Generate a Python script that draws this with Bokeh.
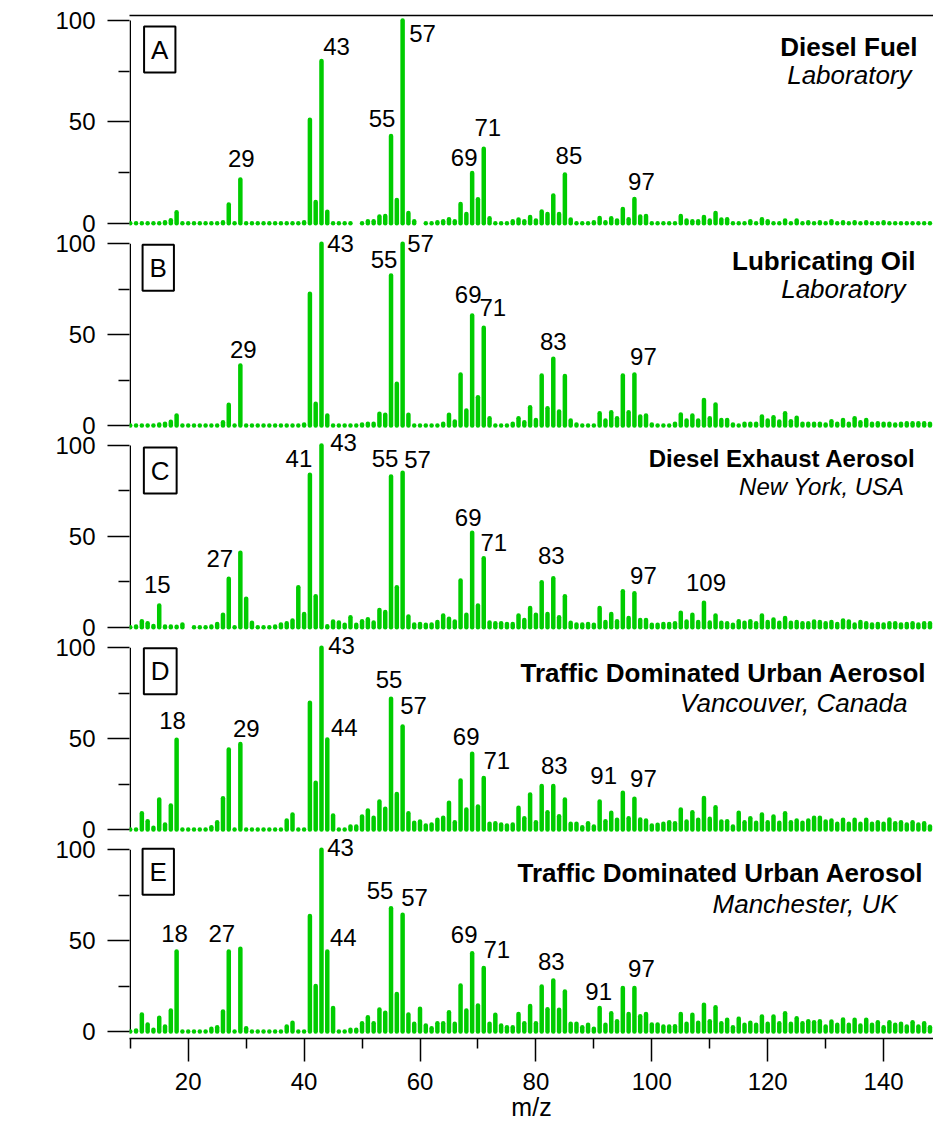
from bokeh.plotting import figure
from bokeh.models import FixedTicker, LinearAxis, ColumnDataSource, Label, Range1d
from bokeh.embed import file_html
from bokeh.resources import INLINE
from bokeh.core.properties import value

nan = float("nan")

# m/z axis of every spectrum
mz = list(range(10, 149))

# Relative intensities (%) for m/z 10..148, ten values per row
diesel_fuel = [
    0, 0, 0, 0, 0, 0, 0.5, 1.5, 5.4, 0,
    0, 0, 0, 0, 0, 0, 0.5, 9.2, 0, 21.5,
    0, 0, 0, 0, 0, 0, 0, 0, 0, 0,
    0.5, 51, 10.5, 80, 5.6, 0, 0, 0, 0, nan,
    0, 1, 1, 3.3, 3.5, 43, 11.5, 100, 5, 1,
    nan, 0, 0, 0.5, 1, 2, 1, 9.5, 4.6, 24.8,
    11.8, 36.7, 2.5, 0, 0, 0, 1, 1.8, 1, 3,
    1.3, 5.8, 4.6, 13.7, 4.6, 24, 1.8, 0, 0, 0,
    0.5, 2.6, 0.5, 2.5, 1.3, 7, 2, 12, 3.3, 3.6,
    0, 0, 0, 0, 0, 3.6, 1.3, 1, 1, 3,
    1.3, 5, 1.8, 2, 0, 0, 0, 1, 0, 2,
    1, 0, 0, 1.3, 0, 1.3, 0, 0.5, 0, 0.5,
    0, 1, 0, 0.5, 0, 0.5, 0, 0.5, 0, 0,
    0.5, 0, 0, 0, 0, 0, 0, 0, 0,
]

lubricating_oil = [
    0, 0, 0, 0, 0, 0.5, 1, 2, 5.5, 0,
    0, 0, 0, 0, 0, 0, 1.8, 11.4, 0, 33,
    0, 0, 0, 0, 0, 0, 0, 0, 0, 0,
    0.5, 72.5, 12, 100, 5.5, 0, 0, 0, 0, 0,
    0.5, 1, 1, 6.4, 5.9, 82.6, 23, 100, 5.9, 0,
    0, 0, 0, 0, 1, 5.9, 2.2, 28, 8.3, 60.5,
    15.6, 53.8, 4, 0, 0, 0, 1, 4, 1.8, 10,
    3, 27.5, 9.5, 36.7, 7.7, 27.2, 2.8, 0.5, 0, 0,
    0, 6.8, 2.8, 7.3, 4, 27.5, 7.3, 28, 5, 5.5,
    0.5, 0, 0, 0, 1, 6, 2.8, 5.5, 2.8, 14,
    4, 11.5, 3, 3, 0.5, 0, 1, 1, 1, 5,
    2.8, 4.5, 2.2, 6.8, 2.4, 4.2, 1, 1, 1, 1,
    0.5, 2.4, 1, 3, 1, 4, 1.8, 3, 1, 1.3,
    1, 1, 0.5, 1, 1.3, 1.3, 1.3, 1.3, 1,
]

diesel_exhaust_ny = [
    0, 0.4, 3.3, 2.2, 0.6, 12, 0.4, 0.4, 0.3, 1.5,
    nan, 0, 0, 0, 0.4, 1.8, 6.8, 26.6, 0, 41,
    15.6, 2.4, 0, 0, 0, 0.4, 1.5, 2.2, 3.7, 22,
    7.3, 83.9, 17, 100, 0.5, 3.1, 2.6, 1.3, 5.5, 1.3,
    3.3, 4.4, 2.6, 9.5, 8.3, 83, 22, 85, 5.9, 1.5,
    1.8, 1.3, 1.5, 2.8, 6.4, 4.6, 3.1, 25.7, 6.8, 52,
    12, 38, 2.6, 2.2, 2.2, 1.8, 1.8, 6.4, 4, 10.5,
    6.8, 24.8, 7.3, 27, 5.5, 17, 2.4, 1.5, 1.5, 1.8,
    1.3, 10.6, 2.8, 7.3, 3.3, 19.8, 5.1, 18.7, 4, 4,
    1.3, 1.3, 1.8, 1.8, 2.2, 8, 3.1, 6.8, 2.8, 13.4,
    2.6, 6.4, 2.4, 2.2, 1.3, 3.3, 2.4, 3.3, 2.2, 6.4,
    2.8, 4.2, 2.4, 5.1, 2.4, 2.8, 2.2, 2.2, 3.1, 2.8,
    2.2, 2.8, 1.8, 3.7, 3.1, 1.5, 2.8, 2.2, 1.5, 1.8,
    1.5, 2.2, 2.2, 1.5, 1.8, 2.2, 1.5, 2.2, 2.2,
]

urban_vancouver = [
    0, 0, 9, 4.6, 1, 16.5, 2.8, 13.2, 49.4, 0,
    0, 0, 0, 0, 1.3, 4, 17.2, 44, 0, 47,
    0, 0, 0, 0, 0, 0, 0, 5, 8.3, 0,
    0, 69.7, 25.7, 100, 49.5, 7.7, 0, 0, 1.7, 1.7,
    7.2, 10.5, 6.4, 15.4, 11.4, 72, 19.6, 56.7, 9, 3.7,
    4.4, 2.2, 2.8, 5.3, 6.4, 14.7, 4, 27, 11, 41.7,
    12.7, 28.4, 3.1, 3.5, 2.8, 2.2, 2.8, 12, 6.2, 19.3,
    4, 24, 9.5, 24, 7.3, 16.5, 3.1, 3.1, 1.3, 3.5,
    1.7, 15.4, 4.6, 9.2, 5.3, 20.2, 6.2, 16.9, 5.5, 5,
    2.2, 2.6, 3.1, 4, 3.5, 11, 4.4, 9.5, 5.3, 17.4,
    5.9, 12.3, 4.4, 4.6, 1.7, 9.2, 4, 6.2, 3.7, 8.3,
    4, 7.2, 3.7, 9, 4, 5, 3.7, 5, 6.4, 6.4,
    4.4, 5, 3.1, 5.3, 3.1, 5.3, 3.1, 5.3, 3.1, 4,
    3.1, 5.5, 3.5, 4, 2.8, 4, 2.8, 3.5, 1.7,
]

urban_manchester = [
    0, 0.5, 9.4, 3.9, 1, 7.5, 2.8, 11.6, 44, 0,
    0, 0, 0, 0, 1.5, 2.4, 11, 44, 0, 45.5,
    1.8, 0, 0, 0, 0, 0, 0, 2.8, 4.8, 0,
    0, 63.5, 25, 100, 44, 13, 0, 0, 1, 1,
    4.6, 7.9, 4.6, 12.1, 10.3, 67.9, 20.7, 64.2, 9.4, 4.2,
    12.5, 3.3, 1.8, 4.6, 4.6, 10.6, 4.2, 25.3, 11.6, 43,
    14.3, 35, 4.2, 9.2, 3.3, 2.4, 2.4, 9.7, 4.6, 14,
    4.6, 24.8, 12.3, 28.1, 12, 22, 4.2, 4.2, 2.4, 3.7,
    1.5, 13, 3.7, 10.1, 5.7, 24, 9.7, 23.9, 8.4, 9.7,
    3.9, 3.9, 2.8, 2.8, 2.9, 9.7, 4.2, 9.2, 4.8, 14.7,
    5.7, 13.4, 4.6, 6.4, 2.4, 7, 3.7, 4.8, 3.7, 8.3,
    4.2, 8.3, 4.6, 10.1, 4.2, 7.3, 4.6, 5.7, 5.1, 5.7,
    2.8, 5.5, 3.7, 6.6, 3.7, 6.4, 3.3, 6.4, 3.7, 5.1,
    2.4, 5.1, 3.7, 4.2, 2.8, 5.1, 2.8, 4.6, 2.4,
]

# Peaks that get an m/z annotation in each panel
peaks_a = [29, 43, 55, 57, 69, 71, 85, 97]
peaks_b = [29, 43, 55, 57, 69, 71, 83, 97]
peaks_c = [15, 27, 41, 43, 55, 57, 69, 71, 83, 97, 109]
peaks_d = [18, 29, 43, 44, 55, 57, 69, 71, 83, 91, 97]
peaks_e = [18, 27, 43, 44, 55, 57, 69, 71, 83, 91, 97]

# y-axis ticks of every panel
y_major = [0, 50, 100]
y_minor = [25, 75]
x_major = list(range(20, 141, 20))
x_minor = list(range(10, 150, 20))

# Text placement of the peak annotations: (dx, height of baseline above the bar top), px
offsets_a = [(1, 12), (15, 6), (-9, 9), (20, -22), (-8, 6), (4, 12), (4, 10), (7, 8)]
offsets_b = [(3, 7), (19, -9), (-7, 7), (18, -9), (-4, 12), (9, 11), (0, 8), (9, 9)]
offsets_c = [(-2, 12), (-9, 11), (-11, 7), (22, -6), (-6, 9), (15, 4), (-4, 6),
             (10, 7), (-2, 14), (9, 9), (2, 11)]
offsets_d = [(-4, 10), (6, 7), (20, -7), (17, 3), (-2, 10), (11, 12), (-6, 8),
             (13, 8), (1, 11), (4, 17), (9, 11)]
offsets_e = [(-2, 9), (-7, 9), (19, -7), (16, 5), (-11, 9), (12, 8), (-8, 10),
             (13, 9), (-2, 10), (-1, 7), (7, 11)]

GREEN = "#00cc00"
FONT = "Liberation Sans"
BASE_LIFT = 9          # text box bottom to glyph baseline, px

# Page geometry (px): frame edges and the m/z scale
LEFT, TOP = 129, 15
FRAME_W, FRAME_H = 804, 1023
PX_PER_MZ = 5.795
X_START = 10 - 0.75 / PX_PER_MZ
X_END = X_START + FRAME_W / PX_PER_MZ
BOTTOM = TOP + FRAME_H

panels = [
    # zero line (px from top) and px per % for every stacked spectrum
    dict(name="A", zero=222.7, k=2.027, letter="A", title="Diesel Fuel", sub="Laboratory",
         tsize=26, vals=diesel_fuel, peaks=peaks_a, offs=offsets_a,
         box=(29.5, 29), t1=(-16, 35), t2=(-22, 63)),
    dict(name="B", zero=425.0, k=1.817, letter="B", title="Lubricating Oil", sub="Laboratory",
         tsize=26, vals=lubricating_oil, peaks=peaks_b, offs=offsets_b,
         box=(28, 24), t1=(-18, 26), t2=(-28, 54)),
    dict(name="C", zero=626.7, k=1.817, letter="C", title="Diesel Exhaust Aerosol",
         sub="New York, USA", tsize=24, vals=diesel_exhaust_ny, peaks=peaks_c, offs=offsets_c,
         box=(30, 25), t1=(-18, 22), t2=(-29, 50)),
    dict(name="D", zero=829.0, k=1.817, letter="D", title="Traffic Dominated Urban Aerosol",
         sub="Vancouver, Canada", tsize=26, vals=urban_vancouver, peaks=peaks_d, offs=offsets_d,
         box=(30, 23.5), t1=(-7, 34), t2=(-26, 64)),
    dict(name="E", zero=1031.0, k=1.817, letter="E", title="Traffic Dominated Urban Aerosol",
         sub="Manchester, UK", tsize=26, vals=urban_manchester, peaks=peaks_e, offs=offsets_e,
         box=(28, 22), t1=(-10, 32), t2=(-36, 63)),
]

# The default y range counts pixels downward from the top of the page (negated),
# every spectrum gets its own range laid over it.
p = figure(frame_width=FRAME_W, frame_height=FRAME_H,
           x_range=Range1d(X_START, X_END), y_range=Range1d(-BOTTOM, -TOP),
           toolbar_location=None, output_backend="svg",
           min_border=0, min_border_left=LEFT, min_border_right=0, min_border_top=TOP)
p.outline_line_color = None
p.grid.visible = False

for cfg in panels:
    z, k = cfg["zero"], cfg["k"]
    p.extra_y_ranges[cfg["name"]] = Range1d((z - BOTTOM) / k, (z - TOP) / k)


def style_axis(ax):
    ax.axis_line_color = "black"
    ax.axis_line_width = 1.5
    ax.major_tick_line_color = "black"
    ax.major_tick_line_width = 1.5
    ax.minor_tick_line_color = "black"
    ax.minor_tick_line_width = 1.5
    ax.major_tick_in = 0
    ax.minor_tick_in = 0
    ax.major_label_text_font = FONT
    ax.major_label_text_font_size = "24px"
    ax.major_label_text_color = "black"


# Left axis: ticks of all five spectra placed on the page scale, labelled in %
major_pos, minor_pos, overrides = [], [], {}
for cfg in panels:
    z, k = cfg["zero"], cfg["k"]
    for v in y_major:
        t = -(z - v * k)
        major_pos.append(t)
        overrides[t] = str(v)
    for v in y_minor:
        minor_pos.append(-(z - v * k))

yax = p.yaxis[0]
style_axis(yax)
yax.axis_line_color = None
yax.ticker = FixedTicker(ticks=major_pos, minor_ticks=minor_pos)
yax.major_label_overrides = overrides
yax.major_tick_out = 22
yax.minor_tick_out = 11
yax.major_label_standoff = 12

xax = p.xaxis[0]
style_axis(xax)
xax.ticker = FixedTicker(ticks=x_major, minor_ticks=x_minor)
xax.major_tick_out = 23
xax.minor_tick_out = 10
xax.major_label_standoff = 11
xax.axis_label = "m/z"
xax.axis_label_text_font = FONT
xax.axis_label_text_font_size = "25px"
xax.axis_label_text_font_style = "normal"
xax.axis_label_text_color = "black"
xax.axis_label_standoff = 0

top_axis = LinearAxis(ticker=FixedTicker(ticks=[], minor_ticks=[]),
                      major_tick_out=0, minor_tick_out=0,
                      axis_line_color="black", axis_line_width=1.5)
p.add_layout(top_axis, "above")

for cfg in panels:
    rn = cfg["name"]

    # axis line of this spectrum, from 0 to 100 %
    p.segment(x0=10, y0=min(y_major), x1=10, y1=max(y_major), y_range_name=rn,
              line_color="black", line_width=1.5)

    src = ColumnDataSource(dict(mz=mz, v=cfg["vals"]))
    p.segment(x0="mz", y0=0, x1="mz", y1="v", source=src, y_range_name=rn,
              line_color=GREEN, line_width=4.5, line_cap="round")

    peak_vals = [cfg["vals"][mz.index(m)] for m in cfg["peaks"]]
    lab = ColumnDataSource(dict(
        x=cfg["peaks"], y=peak_vals, text=[str(m) for m in cfg["peaks"]],
        dx=[o[0] for o in cfg["offs"]],
        dy=[-(o[1] + BASE_LIFT) for o in cfg["offs"]]))
    p.text(x="x", y="y", text="text", x_offset="dx", y_offset="dy", source=lab,
           y_range_name=rn, text_align="center", text_baseline="alphabetic",
           text_font=value(FONT), text_font_size="24px", text_color="black")

    bx, by = cfg["box"]
    p.add_layout(Label(x=10, y=100, x_offset=bx, y_offset=-by, y_range_name=rn,
                       text=cfg["letter"], text_align="center", text_baseline="middle",
                       text_font=FONT, text_font_size="26px", text_color="black",
                       border_line_color="black", border_line_width=2,
                       background_fill_color="white", padding=(7, 8)))

    t1x, t1y = cfg["t1"]
    t2x, t2y = cfg["t2"]
    p.add_layout(Label(x=X_END, y=100, x_offset=t1x, y_offset=-(t1y - BASE_LIFT),
                       y_range_name=rn, text=cfg["title"], text_align="right",
                       text_baseline="alphabetic", text_font=FONT,
                       text_font_size=f"{cfg['tsize']}px", text_font_style="bold",
                       text_color="black"))
    p.add_layout(Label(x=X_END, y=100, x_offset=t2x, y_offset=-(t2y - BASE_LIFT),
                       y_range_name=rn, text=cfg["sub"], text_align="right",
                       text_baseline="alphabetic", text_font=FONT,
                       text_font_size=f"{cfg['tsize']}px", text_font_style="italic",
                       text_color="black"))

# Shared y-axis title, to the left of the tick labels
p.add_layout(Label(x=X_START + (23 - LEFT) / PX_PER_MZ, y=-502,
                   text="Relative Intensity (%)", angle=90, angle_units="deg",
                   text_align="center", text_baseline="middle", text_font=FONT,
                   text_font_size="26px", text_color="black"))

open("out.html", "w").write(file_html(p, INLINE))
